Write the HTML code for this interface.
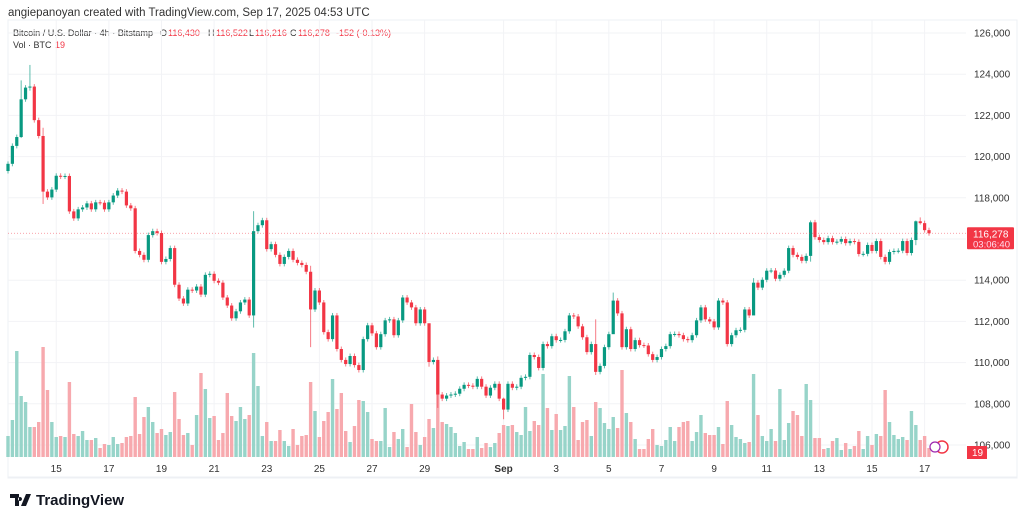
<!DOCTYPE html>
<html><head><meta charset="utf-8">
<style>
html,body{margin:0;padding:0;background:#fff;width:1024px;height:522px;overflow:hidden;font-family:"Liberation Sans",sans-serif;}
svg{position:absolute;left:0;top:0}
</style></head>
<body>
<svg id="chart" width="1024" height="522" viewBox="0 0 1024 522">
  <rect x="8" y="20" width="1009" height="458" fill="#fff" stroke="#eef0f4"/>
  <text x="8" y="16" font-size="11.5" fill="#333">angiepanoyan created with TradingView.com, Sep 17, 2025 04:53 UTC</text>
  <g font-size="9">
    <text x="13" y="36" fill="#333" textLength="140" lengthAdjust="spacingAndGlyphs">Bitcoin / U.S. Dollar · 4h · Bitstamp</text>
    <text x="160" y="36" fill="#333">O</text><text x="168" y="36" fill="#f23645">116,430</text>
    <text x="208" y="36" fill="#333">H</text><text x="216" y="36" fill="#f23645">116,522</text>
    <text x="249" y="36" fill="#333">L</text><text x="255" y="36" fill="#f23645">116,216</text>
    <text x="290" y="36" fill="#333">C</text><text x="298" y="36" fill="#f23645">116,278</text>
    <text x="336" y="36" fill="#f23645">-152 (-0.13%)</text>
  </g>
  <text x="13" y="48" font-size="9" fill="#333">Vol · BTC</text>
  <text x="55" y="48" font-size="9" fill="#f23645">19</text>
  <g id="grid"></g>
  <g id="vol"></g>
  <g id="candles"></g>
  <g id="axes"></g>
  <g>
    <path d="M10 494h9v12h-4v-8h-5z M21 506l5-12h5l-5 12z M20 497a2 2 0 1 0 0.01 0z" fill="#131722"/>
    <text x="36" y="505" font-size="15" font-weight="bold" fill="#131722">TradingView</text>
  </g>
</svg>
<script>
const closes=[119650,120520,120950,122780,123350,123400,121770,121000,118300,118020,118400,119070,119030,119060,117340,117000,117440,117530,117730,117440,117780,117760,117440,117780,118110,118350,118300,117630,117490,115420,115230,114990,116190,116380,116290,114890,115030,115560,113780,113110,112870,113540,113500,113690,113300,114260,114310,113970,113880,113160,112770,112150,112490,112920,113060,112290,116380,116670,116910,115510,115750,115230,114790,115130,115420,114990,114840,114740,114410,112580,113500,112920,111480,111140,112290,110660,110130,109930,110320,109880,109640,111140,111810,111420,110750,111380,112050,112100,111330,112050,113160,112920,112680,111910,112580,111910,110030,110130,108450,108250,108400,108450,108490,108730,108920,108880,108830,109210,108830,108400,108780,108970,108250,107720,108970,108780,108830,109260,109310,110370,110270,109740,110900,110800,111280,111090,111100,111520,112290,112240,111760,111230,110510,110900,109550,109840,110750,111380,113010,112390,110750,111620,110660,111090,110850,110830,110410,110130,110270,110660,110800,111380,111390,111330,111140,111090,111330,112050,112680,112100,112000,111710,113010,112920,110900,111330,111570,111590,112580,112290,113880,113640,114020,114460,114470,114070,114260,114460,115560,115230,115130,114940,115180,116810,116090,115950,115850,116040,115850,115870,116000,115800,115900,115860,115270,115280,115710,115420,115900,115130,114890,115370,115420,115430,115900,115320,115950,116860,116770,116430,116278];
const volumes=[21,37,106,61,55,30,30,35,110,67,35,20,21,20,75,23,21,26,17,17,19,9,13,12,20,13,14,20,21,60,23,40,50,35,24,28,22,25,65,38,22,24,12,42,84,68,39,41,17,24,64,41,36,50,38,42,104,71,21,35,16,16,27,16,11,28,12,21,22,75,46,20,36,45,78,48,64,26,15,31,57,56,45,18,16,16,49,10,25,18,28,10,53,25,12,20,38,29,95,35,33,30,24,11,15,8,8,20,9,14,10,14,24,32,31,32,25,22,50,26,36,32,83,49,27,43,27,31,81,50,17,35,37,21,55,49,34,28,40,29,87,44,35,18,8,8,18,28,12,11,17,30,16,30,35,36,16,25,42,24,22,22,30,13,56,32,20,18,14,15,83,42,21,16,28,16,68,17,34,46,42,21,73,57,19,19,8,9,16,19,7,14,8,11,26,8,21,12,23,21,67,35,22,18,20,17,46,32,17,21,9];
const firstOpen=119300;
const wickOverrides={5:[124450,123200],3:[123700,120900],8:[121400,117700],56:[117350,111700],69:[114700,110750],96:[111900,109800],98:[110300,107800],113:[108300,107250],134:[112100,109400],138:[113400,112700],170:[114100,112400],183:[116900,114900],207:[116900,115700],208:[117050,116700]};
const priceTicks=[126000,124000,122000,120000,118000,116000,114000,112000,110000,108000,106000];
const dateLabels=["15","17","19","21","23","25","27","29","Sep","3","5","7","9","11","13","15","17"];
const dateCandleIdx=[11,23,35,47,59,71,83,95,113,125,137,149,161,173,185,197,209];
const lastPrice=116278, lastCountdown="03:06:40", lastVol=19;

const NS="http://www.w3.org/2000/svg";
const X0=8, DX=4.3857, PX_TOP=33, PX_PER=0.0206, VOL_BASE=457, VOL_SCALE=1.0, PLOT_R=966;
const xs=i=>X0+DX*i;
const ys=p=>PX_TOP+(126000-p)*PX_PER;
function mk(tag,attrs,parent){const e=document.createElementNS(NS,tag);for(const k in attrs)e.setAttribute(k,attrs[k]);parent.appendChild(e);return e;}
const grid=document.getElementById('grid'),vol=document.getElementById('vol'),cg=document.getElementById('candles'),ax=document.getElementById('axes');

priceTicks.forEach(p=>{
  const y=ys(p);
  const l=mk('line',{x1:8,x2:PLOT_R,y1:y,y2:y,stroke:'#f2f3f6','stroke-width':1},grid);
  
  
  const t=mk('text',{x:974,y:y+3.5,'font-size':10,fill:'#333'},ax);
  
  
  t.textContent=p.toLocaleString('en-US');
});
dateLabels.forEach((d,k)=>{
  const x=xs(dateCandleIdx[k]);
  const l=mk('line',{x1:x,x2:x,y1:20,y2:458,stroke:'#f2f3f6','stroke-width':1},grid);
  
  
  const t=mk('text',{x:x,y:472,'font-size':10,fill:'#333','text-anchor':'middle','font-weight':d==='Sep'?'bold':'normal'},ax);
  
  
  t.textContent=d;
});
mk('line',{x1:8,x2:1017,y1:477,y2:477,stroke:'#eef0f4'},ax);

closes.forEach((c,i)=>{
  const o=i===0?firstOpen:closes[i-1];
  const up=c>=o;
  const ov=wickOverrides[i];
  const hi=ov?ov[0]:Math.max(o,c)+120;
  const lo=ov?ov[1]:Math.min(o,c)-120;
  const x=xs(i);
  const col=up?'#089981':'#f23645';
  const vc=up?'#97d4c9':'#f7a9ae';
  const vh=volumes[i]*VOL_SCALE;
  const vb=mk('rect',{x:x-1.7,y:VOL_BASE-vh,width:3.4,height:vh,fill:vc},vol);
  
  
  const w=mk('line',{x1:x,x2:x,y1:ys(hi),y2:ys(lo),stroke:col,'stroke-width':1,opacity:0.65},cg);
  
  
  const top=ys(Math.max(o,c)),bot=ys(Math.min(o,c));
  const b=mk('rect',{x:x-1.6,y:top,width:3.2,height:Math.max(1,bot-top),fill:col},cg);
  
  
});

const ly=ys(lastPrice);
const pl=mk('line',{x1:8,x2:PLOT_R,y1:ly,y2:ly,stroke:'#f23645','stroke-width':0.8,'stroke-dasharray':'1 2',opacity:0.6},ax);


const tag=mk('rect',{x:967,y:ly-6,width:47,height:22,fill:'#f23645',rx:1},ax);


const t1=mk('text',{x:973,y:ly+4,'font-size':10,fill:'#fff'},ax);


t1.textContent=lastPrice.toLocaleString('en-US');
const t2=mk('text',{x:973,y:ly+14,'font-size':9.5,fill:'#fde'},ax);


t2.textContent=lastCountdown;
const vt=mk('rect',{x:967,y:446,width:20,height:13,fill:'#f23645'},ax);


const vtt=mk('text',{x:972,y:456,'font-size':10,fill:'#fff'},ax);


vtt.textContent=lastVol;
const ev=mk('circle',{cx:942,cy:447,r:6,fill:'#fff',stroke:'#f23645','stroke-width':1.5},ax);


const ev2=mk('circle',{cx:935,cy:447,r:5,fill:'#fff',stroke:'#9c27b0','stroke-width':1.2},ax);


</script>
</body></html>
